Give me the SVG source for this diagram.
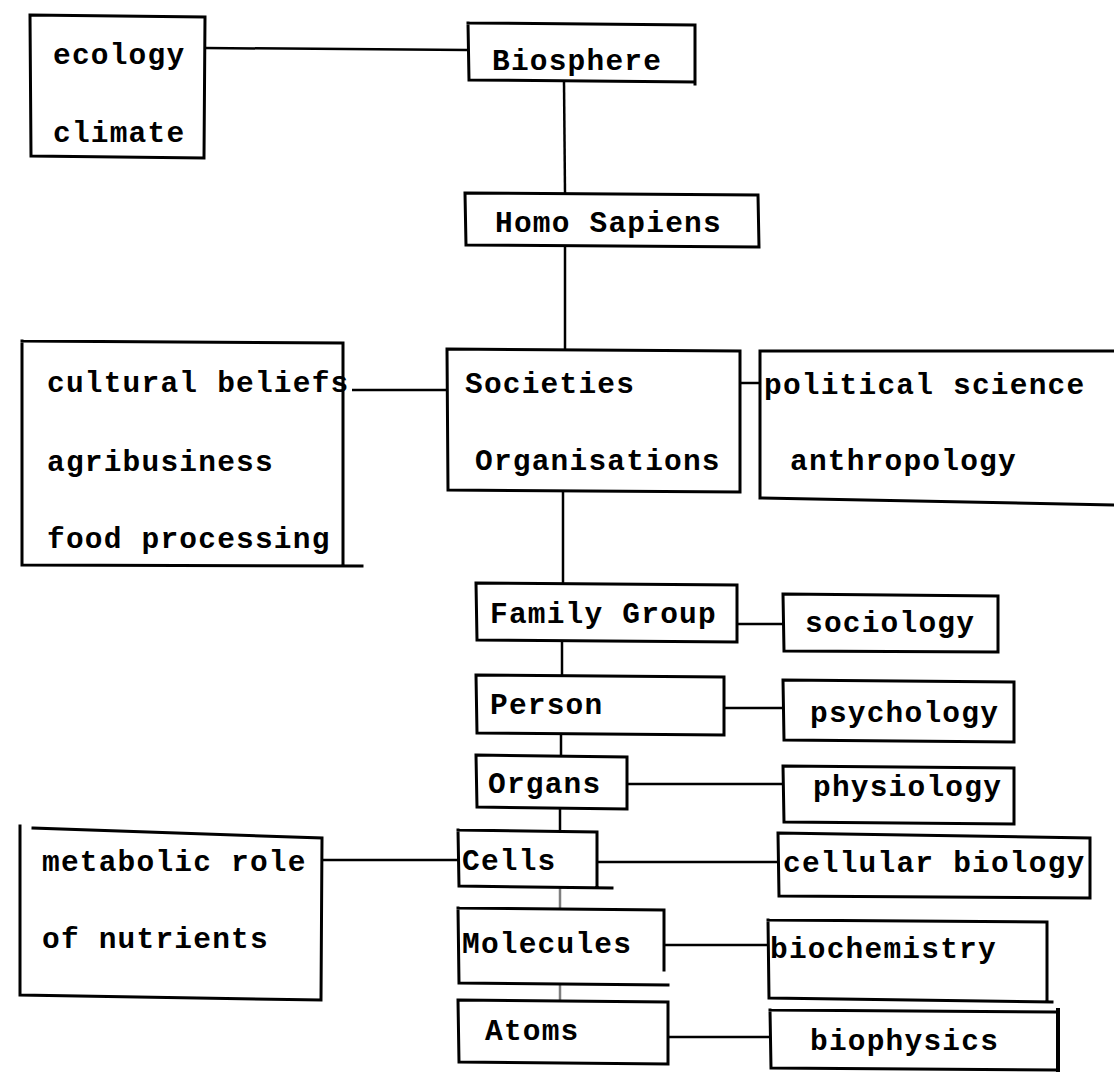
<svg xmlns="http://www.w3.org/2000/svg" width="1114" height="1072" viewBox="0 0 1114 1072">
<style>
.b{fill:none;stroke:#000;stroke-width:3;stroke-linecap:square}
.c{fill:none;stroke:#000;stroke-width:2.5}
.t{font-family:"Liberation Mono","DejaVu Sans Mono",monospace;font-weight:bold;font-size:29.5px;letter-spacing:1.2px;fill:#000}
</style>
<rect width="1114" height="1072" fill="#fff"/>
<g id="connectors">
<line class="c" x1="205" y1="48" x2="468" y2="50"/>
<line class="c" x1="564" y1="82" x2="565" y2="193"/>
<line class="c" x1="565" y1="247" x2="565" y2="349"/>
<line class="c" x1="352" y1="390" x2="447" y2="390"/>
<line class="c" x1="740" y1="383" x2="760" y2="383"/>
<line class="c" x1="563" y1="492" x2="563" y2="583"/>
<line class="c" x1="737" y1="624" x2="783" y2="624"/>
<line class="c" x1="562" y1="642" x2="562" y2="675"/>
<line class="c" x1="724" y1="708" x2="783" y2="708"/>
<line class="c" x1="561" y1="735" x2="561" y2="755"/>
<line class="c" x1="627" y1="784" x2="783" y2="784"/>
<line class="c" x1="560" y1="809" x2="560" y2="830"/>
<line class="c" x1="322" y1="860" x2="458" y2="860"/>
<line class="c" x1="597" y1="862" x2="778" y2="862"/>
<line class="c" x1="560" y1="887" x2="560" y2="908" stroke-opacity="0.5"/>
<line class="c" x1="664" y1="945" x2="768" y2="945"/>
<line class="c" x1="560" y1="985" x2="560" y2="1000" stroke-opacity="0.5"/>
<line class="c" x1="668" y1="1037" x2="770" y2="1037"/>
</g>
<g id="ecology">
<path class="b" d="M30 15 L205 17 L204 158 L31 156 Z"/>
<text class="t" x="53" y="64">ecology</text>
<text class="t" x="53" y="142">climate</text>
</g>
<g id="biosphere">
<path class="b" d="M468 23 L695 25 M695 26 L695 84 M468 23 L469 80 L695 82"/>
<text class="t" x="492" y="70">Biosphere</text>
</g>
<g id="homo-sapiens">
<path class="b" d="M465 193 L758 195 L759 247 L466 245 Z"/>
<text class="t" x="495" y="232">Homo Sapiens</text>
</g>
<g id="cultural">
<path class="b" d="M22 341 L343 343 L343 565 M362 566 L22 565 L22 341"/>
<text class="t" x="47" y="392">cultural beliefs</text>
<text class="t" x="47" y="471">agribusiness</text>
<text class="t" x="47" y="548">food processing</text>
</g>
<g id="societies">
<path class="b" d="M447 349 L740 351 L740 492 L448 490 Z"/>
<text class="t" x="465" y="393">Societies</text>
<text class="t" x="475" y="470">Organisations</text>
</g>
<g id="political">
<path class="b" d="M760 351 L1114 351 M760 351 L760 495 M760 498 L1114 505"/>
<text class="t" x="764" y="394">political science</text>
<text class="t" x="790" y="470">anthropology</text>
</g>
<g id="family-group">
<path class="b" d="M476 583 L737 585 L737 642 L477 640 Z"/>
<text class="t" x="490" y="623">Family Group</text>
</g>
<g id="sociology">
<path class="b" d="M783 594 L998 596 L998 652 L784 651 Z"/>
<text class="t" x="805" y="632">sociology</text>
</g>
<g id="person">
<path class="b" d="M476 675 L724 677 L724 735 L477 733 Z"/>
<text class="t" x="490" y="714">Person</text>
</g>
<g id="psychology">
<path class="b" d="M783 680 L1014 682 L1014 742 L784 740 Z"/>
<text class="t" x="810" y="722">psychology</text>
</g>
<g id="organs">
<path class="b" d="M476 755 L627 757 L627 809 L477 807 Z"/>
<text class="t" x="488" y="793">Organs</text>
</g>
<g id="physiology">
<path class="b" d="M783 766 L1014 768 L1014 824 L784 822 Z"/>
<text class="t" x="813" y="796">physiology</text>
</g>
<g id="cells">
<path class="b" d="M458 830 L597 832 L597 887 M612 888 L459 886 L458 830"/>
<text class="t" x="462" y="870">Cells</text>
</g>
<g id="metabolic">
<path class="b" d="M33 828 L322 838 L321 1000 L20 995 L20 826"/>
<text class="t" x="42" y="871">metabolic role</text>
<text class="t" x="42" y="948">of nutrients</text>
</g>
<g id="cellular-biology">
<path class="b" d="M778 833 L1090 838 L1090 898 L779 896 Z"/>
<text class="t" x="783" y="872">cellular biology</text>
</g>
<g id="molecules">
<path class="b" d="M458 908 L664 910 L664 970 M668 985 L459 983 L458 908"/>
<text class="t" x="462" y="953">Molecules</text>
</g>
<g id="biochemistry">
<path class="b" d="M768 920 L1047 922 L1047 1000 M1052 1002 L769 998 L768 920"/>
<text class="t" x="770" y="958">biochemistry</text>
</g>
<g id="atoms">
<path class="b" d="M458 1000 L668 1002 L668 1064 L459 1062 Z"/>
<text class="t" x="485" y="1040">Atoms</text>
</g>
<g id="biophysics">
<path class="b" d="M770 1010 L1055 1012 M770 1010 L771 1068 L1055 1070"/>
<path d="M1058 1008 L1058 1072" stroke="#000" stroke-width="4"/>
<text class="t" x="810" y="1050">biophysics</text>
</g>
</svg>
